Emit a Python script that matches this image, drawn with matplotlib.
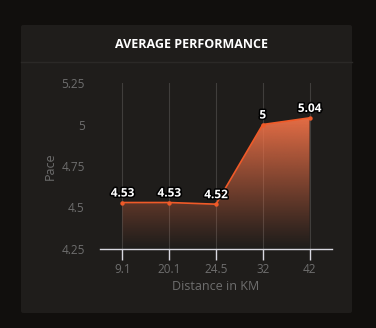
import matplotlib
matplotlib.use("Agg")
import matplotlib.pyplot as plt
import matplotlib.patheffects as pe
from matplotlib.patches import FancyBboxPatch, Polygon
from matplotlib.lines import Line2D
import numpy as np

distances = ["9.1", "20.1", "24.5", "32", "42"]
pace = [4.53, 4.53, 4.52, 5.0, 5.04]
pace_labels = ["4.53", "4.53", "4.52", "5", "5.04"]
y_ticks = [4.25, 4.5, 4.75, 5.0, 5.25]
y_tick_labels = ["4.25", "4.5", "4.75", "5", "5.25"]

W, H = 376, 328
fig = plt.figure(figsize=(W / 100, H / 100), dpi=100)
fig.patch.set_facecolor("#110f0d")

# card panel
card = FancyBboxPatch((21 / W, 1 - 313 / H), 331 / W, 288 / H,
                      boxstyle="round,pad=0,rounding_size=0.006",
                      transform=fig.transFigure, facecolor="#1f1d1b",
                      edgecolor="none", zorder=-10)
fig.patches.append(card)
fig.lines.append(Line2D([21 / W, 352 / W], [1 - 62 / H, 1 - 62 / H],
                        transform=fig.transFigure, color="#2b2927", lw=1,
                        zorder=-9))
fig.text(192 / W, 1 - 44 / H, "AVERAGE PERFORMANCE", ha="center", va="center",
         color="white", fontsize=9, fontweight="bold", family="Open Sans")

ax = fig.add_axes([100 / W, 1 - 249 / H, 232 / W, 166 / H])
ax.set_facecolor("none")
x = np.arange(len(distances))

# gradient fill under the line
top = max(pace)
grad = np.linspace(0, 1, 256)
rgba = np.zeros((256, 1, 4))
rgba[:, 0, 0] = 240 / 255
rgba[:, 0, 1] = 114 / 255
rgba[:, 0, 2] = 72 / 255
rgba[:, 0, 3] = grad ** 1.1 * 0.95
img = ax.imshow(rgba, extent=[x[0], x[-1], 4.25, top], origin="lower",
                aspect="auto", zorder=1, interpolation="bilinear")
poly = Polygon(np.column_stack([np.r_[x, x[::-1]],
                                np.r_[pace, [4.25] * len(x)]]),
               closed=True, transform=ax.transData)
img.set_clip_path(poly)

for xi in x:
    ax.axvline(xi, color="#403e3c", lw=0.8, zorder=0.5)

ax.plot(x, pace, color="#f05a28", lw=1.2, zorder=3)
ax.scatter(x, pace, s=10, color="#f05a28", zorder=4, linewidths=0)

for xi, yi, lab in zip(x, pace, pace_labels):
    ax.text(xi, yi + 0.018, lab, ha="center", va="bottom", color="white",
            fontsize=8.5, fontweight="bold", family="Open Sans", zorder=5,
            path_effects=[pe.withStroke(linewidth=2.2, foreground="black")])

ax.set_xlim(-0.48, len(distances) - 1 + 0.48)
ax.set_ylim(4.25, 5.25)
ax.set_xticks(x)
ax.set_xticklabels(distances)
ax.set_yticks(y_ticks)
ax.set_yticklabels(y_tick_labels)
for s in ["top", "right", "left"]:
    ax.spines[s].set_visible(False)
ax.spines["bottom"].set_color("#d8d8e0")
ax.spines["bottom"].set_linewidth(1)
ax.tick_params(axis="x", colors="#d8d8e0", length=8, width=1, pad=2,
               labelcolor="#6e6e6e", labelsize=8.5)
ax.tick_params(axis="y", length=0, pad=11, labelcolor="#6e6e6e", labelsize=8.5)
for t in ax.get_xticklabels() + ax.get_yticklabels():
    t.set_family("Open Sans")
ax.set_xlabel("Distance in KM", color="#6e6e6e", fontsize=9,
              family="Open Sans", labelpad=3)
ax.set_ylabel("Pace", color="#6e6e6e", fontsize=9, family="Open Sans",
              labelpad=3)

fig.savefig("out.png", dpi=100, facecolor=fig.get_facecolor())
